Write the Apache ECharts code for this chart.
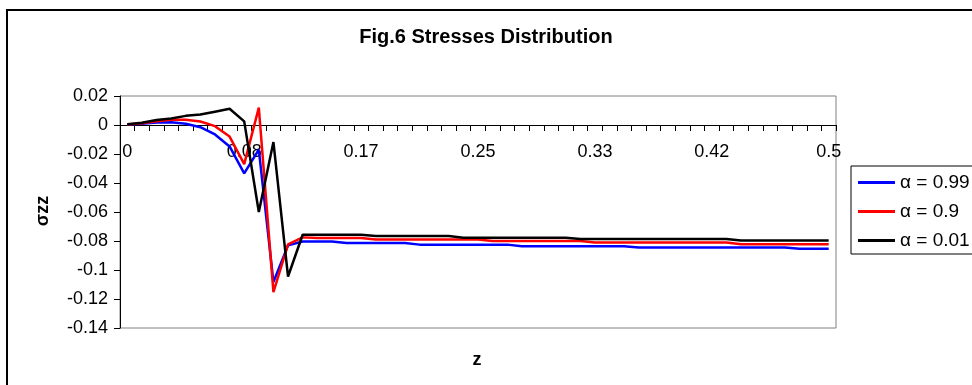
<!DOCTYPE html>
<html>
<head>
<meta charset="utf-8">
<script src="https://cdn.jsdelivr.net/npm/echarts@6/dist/echarts.min.js"></script>
<style>
  html, body { margin: 0; padding: 0; background: #fff; }
  #chart { width: 972px; height: 385px; }
</style>
</head>
<body>
<div id="chart"></div>
<script>
// z positions along the axis (category labels)
var zLabels = [0, 0.01, 0.02, 0.03, 0.04, 0.05, 0.06, 0.07, 0.08, 0.09,
  0.1, 0.11, 0.13, 0.14, 0.15, 0.16, 0.17, 0.18, 0.19, 0.2,
  0.21, 0.22, 0.23, 0.24, 0.25, 0.26, 0.27, 0.28, 0.29, 0.3,
  0.31, 0.32, 0.33, 0.34, 0.35, 0.36, 0.38, 0.39, 0.4, 0.41,
  0.42, 0.43, 0.44, 0.45, 0.46, 0.47, 0.48, 0.49, 0.5]

// sigma zz, alpha = 0.99
var alpha099 = [0.0003, 0.0008, 0.0018, 0.0019, 0.0008, -0.0015, -0.0065, -0.0148, -0.0334, -0.017,
  -0.1083, -0.083, -0.0803, -0.0803, -0.0803, -0.0814, -0.0814, -0.0814, -0.0814, -0.0814,
  -0.0825, -0.0825, -0.0825, -0.0825, -0.0825, -0.0825, -0.0825, -0.0837, -0.0837, -0.0837,
  -0.0837, -0.0837, -0.0837, -0.0837, -0.0837, -0.0844, -0.0844, -0.0844, -0.0844, -0.0844,
  -0.0844, -0.0844, -0.0844, -0.0844, -0.0844, -0.0844, -0.0853, -0.0853, -0.0853]

// sigma zz, alpha = 0.9
var alpha09 = [0.0003, 0.0012, 0.0026, 0.0036, 0.0036, 0.0024, -0.0008, -0.008, -0.027, 0.012,
  -0.1152, -0.0823, -0.0775, -0.078, -0.078, -0.078, -0.078, -0.079, -0.079, -0.079,
  -0.079, -0.079, -0.079, -0.079, -0.079, -0.080, -0.080, -0.080, -0.080, -0.080,
  -0.080, -0.080, -0.081, -0.081, -0.081, -0.081, -0.081, -0.081, -0.081, -0.081,
  -0.081, -0.081, -0.0823, -0.0823, -0.0823, -0.0823, -0.0823, -0.0823, -0.0823]

// sigma zz, alpha = 0.01
var alpha001 = [0.0005, 0.0015, 0.0035, 0.0045, 0.0063, 0.0072, 0.0092, 0.0112, 0.0025, -0.060,
  -0.0118, -0.1045, -0.0757, -0.0757, -0.0757, -0.0757, -0.0757, -0.0766, -0.0766, -0.0766,
  -0.0766, -0.0766, -0.0766, -0.0777, -0.0777, -0.0777, -0.0777, -0.0777, -0.0777, -0.0777,
  -0.0777, -0.0787, -0.0787, -0.0787, -0.0787, -0.0787, -0.0787, -0.0787, -0.0787, -0.0787,
  -0.0787, -0.0787, -0.0796, -0.0796, -0.0796, -0.0796, -0.0796, -0.0796, -0.0796]

var seriesNames = ['α = 0.99', 'α = 0.9', 'α = 0.01']
var seriesColors = ['#0000ff', '#ff0000', '#000000']
var seriesData = [alpha099, alpha09, alpha001]

var font = 'Liberation Sans, Arial, sans-serif'
var gridTop = 96, gridBottom = 57, chartH = 385
var yMin = -0.14, yMax = 0.02
// excel draws the category axis where y = 0, so shift it up from the bottom of the grid
var plotH = chartH - gridTop - gridBottom
var zeroOffset = plotH * (0 - yMin) / (yMax - yMin)

var myChart = echarts.init(document.getElementById('chart'))

var option = {
  animation: false,
  backgroundColor: '#fff',
  textStyle: { fontFamily: font },
  title: {
    text: 'Fig.6 Stresses Distribution',
    left: 'center',
    top: 27,
    padding: 0,
    textStyle: { fontFamily: font, fontSize: 20, fontWeight: 'bold', color: '#000' }
  },
  grid: {
    left: 120,
    top: gridTop,
    right: 136,
    bottom: gridBottom,
    show: true,
    borderColor: '#808080',
    borderWidth: 1
  },
  legend: {
    orient: 'vertical',
    left: 851,
    top: 166,
    padding: [6, 40, 3, 7],
    icon: 'rect',
    itemWidth: 37,
    itemHeight: 3,
    itemGap: 8,
    borderColor: '#000',
    borderWidth: 1,
    backgroundColor: '#fff',
    data: seriesNames,
    textStyle: { fontFamily: font, fontSize: 19, lineHeight: 21, color: '#000' }
  },
  xAxis: {
    type: 'category',
    data: zLabels,
    boundaryGap: true,
    offset: -zeroOffset,
    z: 10,
    axisLine: { show: true, onZero: false, lineStyle: { color: '#000', width: 1 } },
    axisTick: { show: true, interval: 0, length: 6, inside: false, lineStyle: { color: '#000', width: 1 } },
    axisLabel: { interval: 7, margin: 18, color: '#000', fontSize: 18, fontFamily: font },
    splitLine: { show: false }
  },
  yAxis: {
    type: 'value',
    min: yMin,
    max: yMax,
    interval: 0.02,
    axisLine: { show: true, onZero: false, lineStyle: { color: '#000', width: 1 } },
    axisTick: { show: true, length: 6, lineStyle: { color: '#000' } },
    axisLabel: {
      margin: 12,
      color: '#000',
      fontSize: 18,
      fontFamily: font,
      formatter: function (v) { return String(parseFloat(v.toFixed(2))) }
    },
    splitLine: { show: false }
  },
  series: seriesNames.map(function (name, k) {
    return {
      name: name,
      type: 'line',
      data: seriesData[k],
      symbol: 'none',
      color: seriesColors[k],
      lineStyle: { color: seriesColors[k], width: 2.5 },
      z: 20 + k
    }
  }),
  graphic: [
    {
      type: 'rect',
      shape: { x: 7, y: 10, width: 1000, height: 400 },
      style: { fill: null, stroke: '#000', lineWidth: 2 },
      silent: true,
      z: 100
    },
    {
      type: 'text',
      x: 43,
      y: 211,
      rotation: Math.PI / 2,
      style: {
        text: 'σzz',
        fontFamily: font,
        fontSize: 18,
        fontWeight: 'bold',
        fill: '#000',
        align: 'center',
        verticalAlign: 'middle'
      }
    },
    {
      type: 'text',
      x: 477,
      y: 360,
      style: {
        text: 'z',
        fontFamily: font,
        fontSize: 18,
        fontWeight: 'bold',
        fill: '#000',
        align: 'center',
        verticalAlign: 'middle'
      }
    }
  ]
}

myChart.setOption(option)
</script>
</body>
</html>
